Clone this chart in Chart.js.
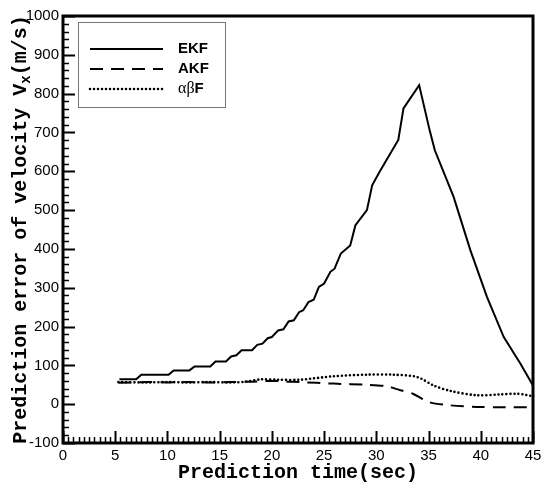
<!DOCTYPE html>
<html>
<head>
<meta charset="utf-8">
<script src="https://cdn.jsdelivr.net/npm/chart.js@4.4.1/dist/chart.umd.min.js"></script>
<style>
  html, body { margin: 0; padding: 0; background: #fff; }
  #wrap { width: 552px; height: 487px; position: relative; }
</style>
</head>
<body>
<div id="wrap"><canvas id="chart"></canvas></div>
<script>
// ── Data ───────────────────────────────────────────────────────────────────
const ekfTime = [5.4, 7.0, 7.5, 10.1, 10.6, 12.1, 12.6, 14.1, 14.6, 15.6, 16.1, 16.6, 17.1, 18.1,
  18.6, 19.1, 19.6, 20.0, 20.6, 21.1, 21.6, 22.1, 22.6, 23.0, 23.5, 24.0, 24.5, 25.0, 25.6, 26.0,
  26.6, 27.5, 28.0, 29.1, 29.6, 30.3, 32.0, 32.1, 32.6, 34.1, 35.1, 35.6, 37.4, 39.0, 40.6, 42.2,
  43.8, 45.0];
const ekfErr = [64, 64, 76, 76, 87, 87, 97, 97, 110, 110, 123, 126, 139, 139,
  153, 156, 170, 173, 190, 193, 213, 216, 237, 242, 263, 269, 302, 311, 341, 349,
  388, 409, 461, 500, 564, 598, 676, 680, 762, 822, 706, 654, 534, 397, 276, 173,
  104, 48];

const akfTime = [5.3, 8, 10, 12, 14, 16, 18, 20, 21.5, 22.7, 25.9, 29.1, 31.0, 32.3, 33.5, 35.1,
  37.1, 39.6, 42, 45];
const akfErr = [55, 57, 56, 57, 56, 57, 58, 60, 58, 57, 53, 50, 46, 36, 27, 5,
  -3, -7, -8, -8];

const abfTime = [5.3, 8, 10, 12, 14, 16, 17.5, 19, 20.5, 22.7, 25.9, 29.1, 31.6, 33.9, 35.5,
  37.1, 39.6, 41.8, 43.5, 44.3, 45];
const abfErr = [57, 56, 57, 56, 57, 56, 58, 64, 63, 63, 72, 76, 76, 70, 48,
  34, 23, 25, 27, 24, 20];

const seriesNames = ['EKF', 'AKF', 'αβF'];

const pts = (xs, ys) => xs.map((x, i) => ({ x, y: ys[i] }));

// ── Frame, inside ticks, y title with subscript, legend ────────────────────
const decorPlugin = {
  id: 'decor',
  afterDraw(chart) {
    const { ctx, chartArea: a, scales: { x, y } } = chart;
    ctx.save();
    ctx.strokeStyle = '#000';

    // inside ticks
    const tick = (px, len, w, horiz) => {
      ctx.lineWidth = w;
      ctx.beginPath();
      if (horiz) { ctx.moveTo(a.left, px); ctx.lineTo(a.left + len, px); }
      else       { ctx.moveTo(px, a.bottom); ctx.lineTo(px, a.bottom - len); }
      ctx.stroke();
    };
    for (let v = -100; v <= 1000; v += 20) {
      tick(Math.round(y.getPixelForValue(v)) + 0.5, v % 100 === 0 ? 12 : 6, v % 100 === 0 ? 2 : 1.5, true);
    }
    for (let k = 0; k <= 90; k++) {
      const v = k / 2;
      tick(Math.round(x.getPixelForValue(v)) + 0.5, k % 10 === 0 ? 12 : 6, k % 10 === 0 ? 2 : 1.5, false);
    }

    // frame
    ctx.lineWidth = 3;
    ctx.strokeRect(a.left, a.top, a.right - a.left, a.bottom - a.top);

    // y title, rotated, with subscript x
    const main = 'bold 20px "Liberation Mono", monospace';
    const sub  = 'bold 14px "Liberation Mono", monospace';
    const parts = [['Prediction error of velocity V', main, 0], ['x', sub, 5], ['(m/s)', main, 0]];
    ctx.translate(21, (a.top + a.bottom) / 2);
    ctx.rotate(-Math.PI / 2);
    ctx.fillStyle = '#000';
    ctx.textBaseline = 'middle';
    let total = 0;
    for (const [t, f] of parts) { ctx.font = f; total += ctx.measureText(t).width; }
    let cx = -total / 2;
    for (const [t, f, dy] of parts) {
      ctx.font = f;
      ctx.fillText(t, cx, dy);
      cx += ctx.measureText(t).width;
    }
    ctx.restore();

    // legend
    ctx.save();
    ctx.fillStyle = '#fff';
    ctx.fillRect(78, 22, 147, 85);
    ctx.strokeStyle = '#777';
    ctx.lineWidth = 1;
    ctx.strokeRect(78.5, 22.5, 147, 85);
    chart.data.datasets.forEach((ds, i) => {
      const ly = 49 + i * 20;
      ctx.strokeStyle = '#000';
      ctx.lineWidth = ds.borderWidth;
      ctx.lineCap = ds.borderCapStyle || 'butt';
      ctx.setLineDash(ds.borderDash || []);
      ctx.beginPath();
      ctx.moveTo(90, ly);
      ctx.lineTo(163, ly);
      ctx.stroke();
      ctx.setLineDash([]);
      ctx.fillStyle = '#000';
      ctx.textBaseline = 'middle';
      ctx.textAlign = 'left';
      if (ds.label === 'αβF') {
        ctx.font = '16px "Liberation Serif", serif';
        ctx.fillText('αβ', 178, ly);
        const w = ctx.measureText('αβ').width;
        ctx.font = 'bold 15px "Liberation Sans", sans-serif';
        ctx.fillText('F', 178 + w, ly);
      } else {
        ctx.font = 'bold 15px "Liberation Sans", sans-serif';
        ctx.fillText(ds.label, 178, ly);
      }
    });
    ctx.restore();
  }
};

Chart.defaults.font.family = '"Liberation Sans", Arial, sans-serif';
Chart.defaults.color = '#000';

new Chart(document.getElementById('chart'), {
  type: 'line',
  data: {
    datasets: [
      { label: seriesNames[0], data: pts(ekfTime, ekfErr), borderColor: '#000', borderWidth: 2,
        pointRadius: 0, tension: 0 },
      { label: seriesNames[1], data: pts(akfTime, akfErr), borderColor: '#000', borderWidth: 2,
        borderDash: [13, 8], pointRadius: 0, tension: 0.3 },
      { label: seriesNames[2], data: pts(abfTime, abfErr), borderColor: '#000', borderWidth: 2.6,
        borderDash: [0, 4], borderCapStyle: 'round', pointRadius: 0, tension: 0.3 },
    ],
  },
  options: {
    responsive: true, maintainAspectRatio: false, animation: false,
    layout: { padding: { top: 16, right: 19, left: 0, bottom: 0 } },
    plugins: { legend: { display: false }, tooltip: { enabled: false } },
    scales: {
      x: {
        type: 'linear', min: 0, max: 45,
        grid: { display: false, drawTicks: false },
        border: { display: false },
        ticks: { stepSize: 5, autoSkip: false, padding: 4, font: { size: 15 }, color: '#000',
          callback: v => String(v) },
        title: {
          display: true, text: 'Prediction time(sec)', color: '#000',
          font: { family: '"Liberation Mono", monospace', weight: 'bold', size: 20 },
          padding: { top: 0, bottom: 2 },
        },
        afterFit: s => { s.height = 44; },
      },
      y: {
        type: 'linear', min: -100, max: 1000,
        grid: { display: false, drawTicks: false },
        border: { display: false },
        ticks: { stepSize: 100, autoSkip: false, padding: 4, font: { size: 15 }, color: '#000',
          callback: v => String(v) },
        afterFit: s => { s.width = 63; },
      },
    },
  },
  plugins: [decorPlugin],
});
</script>
</body>
</html>
